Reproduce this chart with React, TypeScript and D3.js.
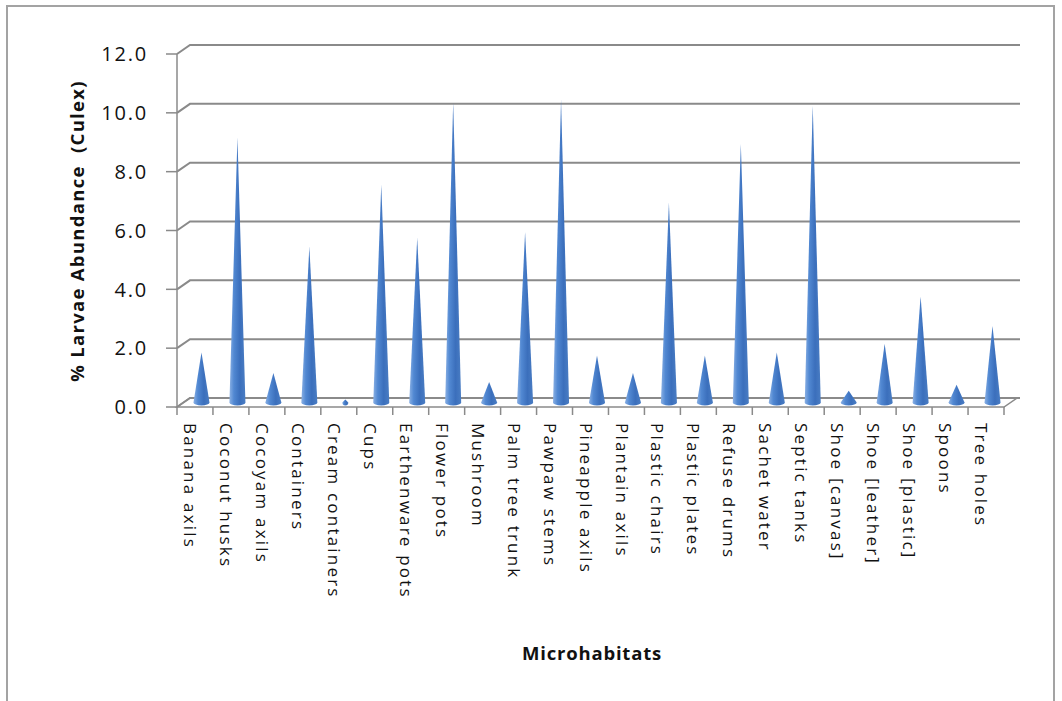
import React from "react";
import * as d3 from "d3";

const categories = [
  "Banana axils", "Coconut husks", "Cocoyam axils", "Containers", "Cream containers",
  "Cups", "Earthenware pots", "Flower pots", "Mushroom", "Palm tree trunk",
  "Pawpaw stems", "Pineapple axils", "Plantain axils", "Plastic chairs", "Plastic plates",
  "Refuse drums", "Sachet water", "Septic tanks", "Shoe [canvas]", "Shoe [leather]",
  "Shoe [plastic]", "Spoons", "Tree holes",
];
const values = [
  1.7, 9.0, 1.0, 5.3, 0.1,
  7.4, 5.6, 10.2, 0.7, 5.8,
  10.3, 1.6, 1.0, 6.8, 1.6,
  8.8, 1.7, 10.1, 0.4, 2.0,
  3.6, 0.6, 2.6,
];
const yTicks = [0, 2, 4, 6, 8, 10, 12];

const W = 1062, H = 701;
const DX = 13, DY = -9;
const FONT = "'Open Sans', 'Noto Sans', sans-serif";
const GRID = "#8a8a8a";

export default function App() {
  const x = d3.scaleBand<string>().domain(categories).range([177, 1004]).padding(0);
  const y = d3.scaleLinear().domain([0, 12]).range([407, 54]);
  const bw = x.bandwidth();
  const y0 = y(0);
  const halfBase = 8;

  return (
    <svg width={W} height={H} style={{ position: "absolute", left: 0, top: 0, background: "#fff" }}>
      <defs>
        <linearGradient id="coneGrad" x1="0" x2="1" y1="0" y2="0">
          <stop offset="0%" stopColor="#8ab0e4" />
          <stop offset="28%" stopColor="#5188d2" />
          <stop offset="65%" stopColor="#3b6fbc" />
          <stop offset="100%" stopColor="#4a7dc3" />
        </linearGradient>
      </defs>
      <rect x={7} y={6} width={1047} height={H + 10} fill="#fff" stroke="#a3a3a3" strokeWidth={2} />

      {/* gridlines (back wall + left wall slant) */}
      {yTicks.map((t) => (
        <g key={"g" + t}>
          <path
            d={`M${x.range()[0]},${y(t)} L${x.range()[0] + DX},${y(t) + DY} L${x.range()[1] + DX + 3},${y(t) + DY}`}
            fill="none"
            stroke={GRID}
            strokeWidth={2}
          />
          <line x1={166} x2={177} y1={y(t)} y2={y(t)} stroke={GRID} strokeWidth={1.5} />
          <text
            x={148}
            y={y(t)}
            dy="0.36em"
            textAnchor="end"
            fontFamily={FONT}
            fontSize={20}
            letterSpacing={1.8}
            fill="#111"
          >
            {d3.format(".1f")(t)}
          </text>
        </g>
      ))}

      {/* left axis line */}
      <line x1={177} x2={177} y1={y(12)} y2={y0} stroke={GRID} strokeWidth={1.5} />

      {/* floor */}
      <path
        d={`M${x.range()[0]},${y0} L${x.range()[1]},${y0} L${x.range()[1] + DX},${y0 + DY} L${x.range()[0] + DX},${y0 + DY} Z`}
        fill="none"
        stroke={GRID}
        strokeWidth={1.5}
      />

      {/* x ticks */}
      {categories.concat(["__end"]).map((c, i) => {
        const xx = i < categories.length ? (x(c) as number) : x.range()[1];
        return <line key={"xt" + i} x1={xx} x2={xx} y1={y0} y2={y0 + 8} stroke={GRID} strokeWidth={1.5} />;
      })}

      {/* cones */}
      {categories.map((c, i) => {
        const cx = (x(c) as number) + bw / 2 + DX / 2;
        const base = y0 + DY / 2;
        const tip = y(values[i]) + DY / 2;
        const hb = Math.min(halfBase, Math.max(3, (base - tip) * 0.9));
        return (
          <g key={"c" + c}>
            <path
              d={`M${cx - hb},${base} L${cx},${tip} L${cx + hb},${base} A${hb},3 0 0 1 ${cx - hb},${base} Z`}
              fill="url(#coneGrad)"
            />
          </g>
        );
      })}

      {/* category labels */}
      {categories.map((c) => {
        const lx = (x(c) as number) + bw / 2 - 5;
        return (
          <text
            key={"l" + c}
            transform={`translate(${lx},${y0 + 16}) rotate(90)`}
            dy="0.35em"
            fontFamily={FONT}
            fontSize={17}
            letterSpacing={2.2}
            fill="#111"
          >
            {c}
          </text>
        );
      })}

      {/* axis titles */}
      <text
        transform={`translate(84,231) rotate(-90)`}
        textAnchor="middle"
        fontFamily={FONT}
        fontSize={18.5}
        fontWeight="bold"
        letterSpacing={1.3}
        fill="#111"
        style={{ whiteSpace: "pre" }}
      >
        % Larvae Abundance  (Culex)
      </text>
      <text x={592} y={660} textAnchor="middle" fontFamily={FONT} fontSize={18.5} fontWeight="bold" letterSpacing={0.8} fill="#111">
        Microhabitats
      </text>
    </svg>
  );
}
